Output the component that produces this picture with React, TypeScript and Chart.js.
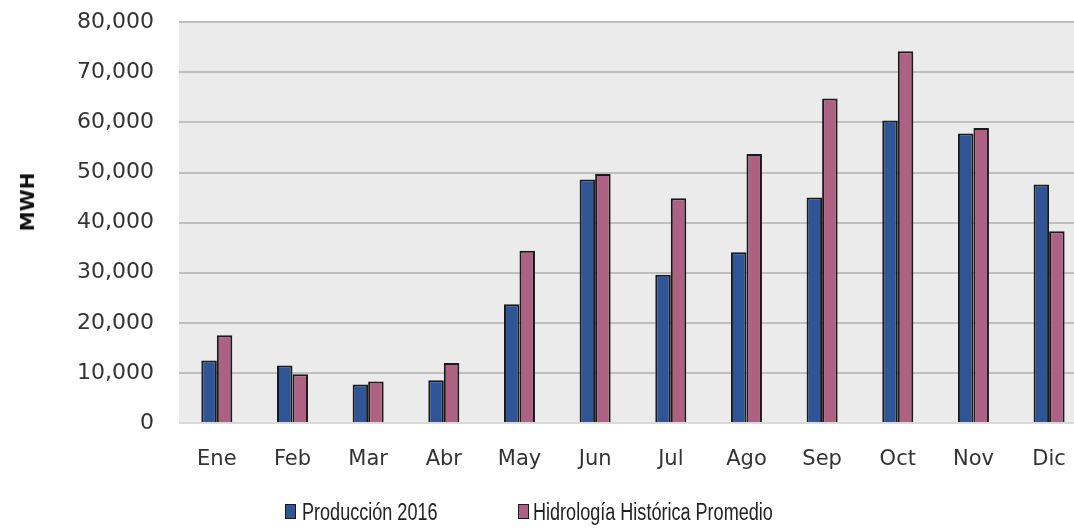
import React, { useEffect, useRef } from "react";
import { Chart, registerables } from "chart.js";

Chart.register(...registerables);

const months = ["Ene", "Feb", "Mar", "Abr", "May", "Jun", "Jul", "Ago", "Sep", "Oct", "Nov", "Dic"];
const produccion2016 = [12500, 11500, 7700, 8550, 23700, 48600, 29600, 34100, 45000, 60400, 57800, 47600];
const hidrologiaHistorica = [17500, 9750, 8300, 12000, 34400, 49700, 44850, 53700, 64750, 74200, 58900, 38250];
const seriesNames = ["Producción 2016", "Hidrología Histórica Promedio"];
const seriesColors = ["#2f5597", "#ae6283"];
const yTicks = [0, 10000, 20000, 30000, 40000, 50000, 60000, 70000, 80000];
const yTitle = "MWH";

const plotBg = {
  id: "plotBg",
  beforeDraw(chart: any) {
    const { ctx, chartArea } = chart;
    if (!chartArea) return;
    ctx.save();
    ctx.fillStyle = "#ebebeb";
    ctx.fillRect(chartArea.left, chartArea.top, chartArea.right - chartArea.left, chartArea.bottom - chartArea.top);
    ctx.restore();
  },
};

export default function App() {
  const ref = useRef<HTMLCanvasElement | null>(null);

  useEffect(() => {
    if (!ref.current) return;
    const chart = new Chart(ref.current, {
      type: "bar",
      data: {
        labels: months,
        datasets: [
          {
            label: seriesNames[0],
            data: produccion2016,
            backgroundColor: seriesColors[0],
            borderColor: "#1a1a1a",
            borderWidth: 2,
            categoryPercentage: 0.41,
            barPercentage: 1,
          },
          {
            label: seriesNames[1],
            data: hidrologiaHistorica,
            backgroundColor: seriesColors[1],
            borderColor: "#1a1a1a",
            borderWidth: 2,
            categoryPercentage: 0.41,
            barPercentage: 1,
          },
        ],
      },
      options: {
        responsive: false,
        animation: false,
        devicePixelRatio: 1,
        layout: { padding: { top: 6, left: 13, right: 3, bottom: 0 } },
        plugins: { legend: { display: false }, tooltip: { enabled: false } },
        scales: {
          x: {
            offset: true,
            grid: { display: false, drawTicks: false },
            border: { display: false },
            ticks: {
              color: "#333333",
              font: { family: "DejaVu Sans", size: 21 },
              padding: 24,
              maxRotation: 0,
              autoSkip: false,
            },
            afterFit(scale: any) {
              scale.height = 106;
            },
          },
          y: {
            min: 0,
            max: 80000,
            afterBuildTicks(scale: any) {
              scale.ticks = yTicks.map((v) => ({ value: v }));
            },
            grid: {
              drawTicks: false,
              lineWidth: 2,
              color: (c: any) => (c.tick && c.tick.value === 0 ? "#d9d9d9" : "#bfbfbf"),
            },
            border: { display: false },
            title: { display: false },
            ticks: {
              color: "#333333",
              font: { family: "DejaVu Sans", size: 22 },
              padding: 25,
              callback: (v: any) => Number(v).toLocaleString("en-US"),
            },
            afterFit(scale: any) {
              scale.width = 166;
            },
          },
        },
      },
      plugins: [plotBg],
    });
    return () => chart.destroy();
  }, []);

  const legendText: React.CSSProperties = {
    position: "absolute",
    top: 499,
    fontFamily: "Liberation Sans, Arial, sans-serif",
    fontSize: 23,
    color: "#222222",
    whiteSpace: "nowrap",
    transform: "scaleX(0.785)",
    transformOrigin: "left center",
    lineHeight: "26px",
  };
  const box = (color: string, left: number): React.CSSProperties => ({
    position: "absolute",
    left,
    top: 504,
    width: 9,
    height: 13,
    background: color,
    border: "1px solid #1a1a1a",
  });

  return (
    <div style={{ position: "fixed", left: 0, top: 0, width: 1074, height: 529, overflow: "hidden", background: "#ffffff" }}>
      <canvas ref={ref} width={1090} height={545} style={{ position: "absolute", left: 0, top: -16 }} />
      <div
        style={{
          position: "absolute",
          left: 27,
          top: 202,
          transform: "translate(-50%, -50%) rotate(-90deg)",
          fontFamily: "DejaVu Sans, sans-serif",
          fontWeight: "bold",
          fontSize: 20,
          color: "#111111",
          whiteSpace: "nowrap",
          lineHeight: "24px",
        }}
      >
        {yTitle}
      </div>
      <div style={box(seriesColors[0], 285)} />
      <div style={{ ...legendText, left: 302 }}>{seriesNames[0]}</div>
      <div style={box(seriesColors[1], 518)} />
      <div style={{ ...legendText, left: 533 }}>{seriesNames[1]}</div>
    </div>
  );
}
